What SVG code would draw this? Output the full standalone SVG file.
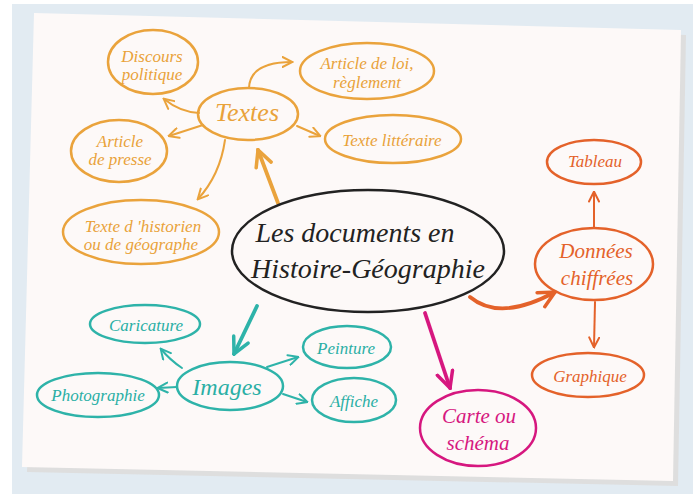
<svg xmlns="http://www.w3.org/2000/svg" width="700" height="494" viewBox="0 0 700 494">
<style>
.n{fill:none;stroke-width:2.5}
.t{font-family:"Liberation Serif","DejaVu Serif",serif;font-style:italic;text-anchor:middle}
.o{stroke:#eaa33c}
.r{stroke:#e4622a}
.g{stroke:#2eb3a9}
.m{stroke:#d6177f}
.k{stroke:#222222}
.to{fill:#e9a23a}
.tr{fill:#e4622a}
.tg{fill:#2aafa5}
.tm{fill:#d6177f}
.tk{fill:#222222}
.c{fill:none;stroke-width:2;stroke-linecap:round}
.c.w{stroke-width:3.8}
</style>
<defs>
<marker id="ao" viewBox="0 0 12 12" refX="10.5" refY="6" markerWidth="12" markerHeight="12" markerUnits="userSpaceOnUse" orient="auto"><path d="M1,1 L11,6 L1,11" fill="none" stroke="#eaa33c" stroke-width="2" stroke-linecap="round"/></marker>
<marker id="ar" viewBox="0 0 12 12" refX="10.5" refY="6" markerWidth="12" markerHeight="12" markerUnits="userSpaceOnUse" orient="auto"><path d="M1,1 L11,6 L1,11" fill="none" stroke="#e4622a" stroke-width="2" stroke-linecap="round"/></marker>
<marker id="ag" viewBox="0 0 12 12" refX="10.5" refY="6" markerWidth="12" markerHeight="12" markerUnits="userSpaceOnUse" orient="auto"><path d="M1,1 L11,6 L1,11" fill="none" stroke="#2eb3a9" stroke-width="2" stroke-linecap="round"/></marker>
<marker id="Ao" viewBox="0 0 20 20" refX="18" refY="10" markerWidth="20" markerHeight="20" markerUnits="userSpaceOnUse" orient="auto"><path d="M2,2 L18,10 L2,18" fill="none" stroke="#eaa33c" stroke-width="3.5" stroke-linecap="round"/></marker>
<marker id="Ar" viewBox="0 0 20 20" refX="18" refY="10" markerWidth="20" markerHeight="20" markerUnits="userSpaceOnUse" orient="auto"><path d="M2,2 L18,10 L2,18" fill="none" stroke="#e4622a" stroke-width="3.5" stroke-linecap="round"/></marker>
<marker id="Ag" viewBox="0 0 20 20" refX="18" refY="10" markerWidth="20" markerHeight="20" markerUnits="userSpaceOnUse" orient="auto"><path d="M2,2 L18,10 L2,18" fill="none" stroke="#2eb3a9" stroke-width="3.5" stroke-linecap="round"/></marker>
<marker id="Am" viewBox="0 0 20 20" refX="18" refY="10" markerWidth="20" markerHeight="20" markerUnits="userSpaceOnUse" orient="auto"><path d="M2,2 L18,10 L2,18" fill="none" stroke="#d6177f" stroke-width="3.5" stroke-linecap="round"/></marker>
</defs>
<rect x="0" y="0" width="700" height="494" fill="#ffffff"/>
<rect x="12" y="4" width="681" height="490" fill="#e2ebf2"/>
<polygon points="39,18 686,35 678,486 27,472" fill="#dedede"/>
<polygon points="34,13 681,30 673,481 22,467" fill="#fdf9f8"/>

<g id="connectors">
<path class="c w o" d="M278,203 L258,150" marker-end="url(#Ao)"/>
<path class="c o" d="M199,113 Q180,112 164,99" marker-end="url(#ao)"/>
<path class="c o" d="M203,125 L169,136" marker-end="url(#ao)"/>
<path class="c o" d="M225,140 Q220,175 198,199" marker-end="url(#ao)"/>
<path class="c o" d="M249,88 Q250,62 292,62" marker-end="url(#ao)"/>
<path class="c o" d="M297,126 L320,136" marker-end="url(#ao)"/>
<path class="c w r" d="M470,297 Q500,322 555,292" marker-end="url(#Ar)"/>
<path class="c r" d="M594,228 L594,192" marker-end="url(#ar)"/>
<path class="c r" d="M595,302 L594,347" marker-end="url(#ar)"/>
<path class="c w m" d="M425,313 L450,388" marker-end="url(#Am)"/>
<path class="c w g" d="M257,306 L234,354" marker-end="url(#Ag)"/>
<path class="c g" d="M182,368 Q170,360 161,349" marker-end="url(#ag)"/>
<path class="c g" d="M177,387 L158,388" marker-end="url(#ag)"/>
<path class="c g" d="M267,367 L298,357" marker-end="url(#ag)"/>
<path class="c g" d="M283,394 L307,402" marker-end="url(#ag)"/>
</g>

<g id="main">
<ellipse class="n k" cx="368" cy="251" rx="136" ry="61" stroke-width="3"/>
<text class="t tk" font-size="28" x="355" y="242">Les documents en</text>
<text class="t tk" font-size="28" x="368" y="278">Histoire-Géographie</text>
</g>

<g id="textes">
<ellipse class="n o" cx="248" cy="114" rx="50" ry="26"/>
<text class="t to" font-size="26" x="247" y="121">Textes</text>
</g>
<g id="discours">
<ellipse class="n o" cx="153" cy="62" rx="45" ry="32"/>
<text class="t to" font-size="17" x="152" y="62">Discours</text>
<text class="t to" font-size="17" x="152" y="80">politique</text>
</g>
<g id="article-loi">
<ellipse class="n o" cx="367" cy="71" rx="67" ry="28"/>
<text class="t to" font-size="17" x="367" y="69">Article de loi,</text>
<text class="t to" font-size="17" x="367" y="88">règlement</text>
</g>
<g id="texte-litteraire">
<ellipse class="n o" cx="393" cy="139" rx="68" ry="24"/>
<text class="t to" font-size="17" x="392" y="146">Texte littéraire</text>
</g>
<g id="article-presse">
<ellipse class="n o" cx="119" cy="151" rx="48" ry="31"/>
<text class="t to" font-size="17" x="120" y="147">Article</text>
<text class="t to" font-size="17" x="120" y="165">de presse</text>
</g>
<g id="texte-historien">
<ellipse class="n o" cx="141" cy="232" rx="78" ry="32"/>
<text class="t to" font-size="17" x="143" y="232">Texte d 'historien</text>
<text class="t to" font-size="17" x="141" y="250">ou de géographe</text>
</g>

<g id="donnees">
<ellipse class="n r" cx="594" cy="264" rx="59" ry="36"/>
<text class="t tr" font-size="21" x="596" y="258">Données</text>
<text class="t tr" font-size="21" x="597" y="285">chiffrées</text>
</g>
<g id="tableau">
<ellipse class="n r" cx="594" cy="162" rx="47" ry="22"/>
<text class="t tr" font-size="17" x="595" y="167">Tableau</text>
</g>
<g id="graphique">
<ellipse class="n r" cx="588" cy="375" rx="56" ry="22"/>
<text class="t tr" font-size="17" x="590" y="382">Graphique</text>
</g>

<g id="carte">
<ellipse class="n m" cx="478" cy="428" rx="58" ry="38"/>
<text class="t tm" font-size="21" x="479" y="423">Carte ou</text>
<text class="t tm" font-size="21" x="478" y="450">schéma</text>
</g>

<g id="images">
<ellipse class="n g" cx="230" cy="386" rx="53" ry="24"/>
<text class="t tg" font-size="24" x="227" y="395">Images</text>
</g>
<g id="caricature">
<ellipse class="n g" cx="145" cy="324" rx="55" ry="19"/>
<text class="t tg" font-size="17" x="146" y="331">Caricature</text>
</g>
<g id="photographie">
<ellipse class="n g" cx="98" cy="395" rx="61" ry="22"/>
<text class="t tg" font-size="17" x="98" y="401">Photographie</text>
</g>
<g id="peinture">
<ellipse class="n g" cx="347" cy="347" rx="44" ry="21"/>
<text class="t tg" font-size="17" x="346" y="354">Peinture</text>
</g>
<g id="affiche">
<ellipse class="n g" cx="354" cy="400" rx="42" ry="22"/>
<text class="t tg" font-size="17" x="354" y="407">Affiche</text>
</g>
</svg>
